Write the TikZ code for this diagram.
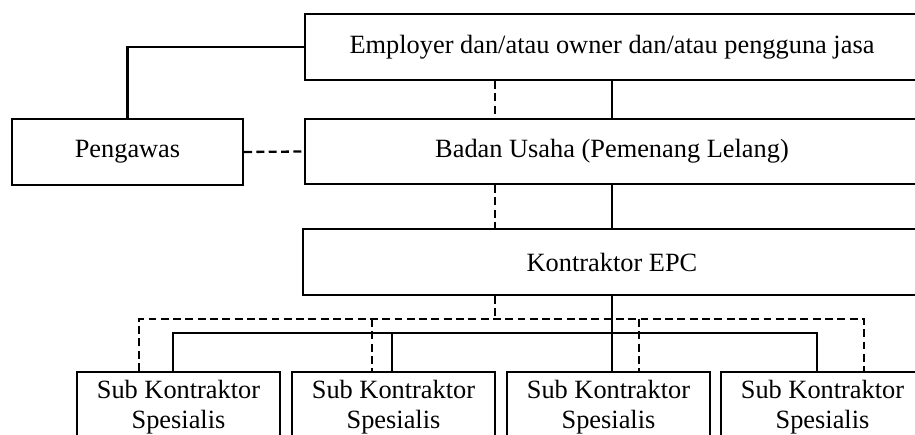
\documentclass[tikz,border=0pt]{standalone}
\usepackage{fontspec}
\setmainfont{Liberation Serif}
\tikzset{
  blok/.style={draw,line width=1.3pt,inner sep=2pt,align=center,font=\fontsize{15}{17}\selectfont},
  garis/.style={line width=1.3pt},
  putus/.style={line width=1.3pt,dash pattern=on 4.5pt off 2.5pt}
}
\begin{document}
\begin{tikzpicture}
  \useasboundingbox (0,0) rectangle (18.3,-8.7);
  \clip (0,0) rectangle (18.3,-8.7);
  %atas
  \node[blok,minimum width=12.28cm,minimum height=1.32cm] (emp) at (12.24,-0.94) {Employer dan/atau owner dan/atau pengguna jasa};
  \node[blok,minimum width=12.28cm,minimum height=1.30cm] (bdn) at (12.24,-3.03) {Badan Usaha (Pemenang Lelang)};
  \node[blok,minimum width=4.62cm,minimum height=1.32cm] (pgw) at (2.55,-3.04) {Pengawas};
  \node[blok,minimum width=12.36cm,minimum height=1.32cm] (epc) at (12.24,-5.24) {Kontraktor EPC};
  %sub kontraktor
  \foreach \i/\x in {1/3.57,2/7.87,3/12.17,4/16.45}
    \node[blok,anchor=north,minimum width=4.06cm,minimum height=1.4cm] (sub\i) at (\x,-7.42) {Sub Kontraktor\\Spesialis};
  %garis
  \draw[garis] (emp.west) -| (pgw.north);
  \draw[putus] (pgw.east) -- (bdn.west);
  \draw[garis] (emp.south) -- (bdn.north);
  \draw[garis] (bdn.south) -- (epc.north);
  \draw[putus] (emp.south -| 9.9,0) -- (bdn.north -| 9.9,0);
  \draw[putus] (bdn.south -| 9.9,0) -- (epc.north -| 9.9,0);
  %B
  \coordinate (dbus) at (9.9,-6.38);
  \coordinate (sbus) at (12.24,-6.66);
  \draw[putus] (epc.south -| dbus) -- (dbus);
  \draw[putus] (sub1.north -| 2.78,0) |- (dbus) -- (dbus -| 17.28,0) -- (sub4.north -| 17.28,0);
  \draw[putus] (dbus -| 7.44,0) -- (sub2.north -| 7.44,0);
  \draw[putus] (dbus -| 12.78,0) -- (sub3.north -| 12.78,0);
  \draw[garis] (epc.south) -- (epc.south |- sub3.north);
  \draw[garis] (sub1.north -| 3.46,0) |- (sbus) -| (sub2.north -| 7.84,0);
  \draw[garis] (sbus) -| (sub4.north -| 16.34,0);
\end{tikzpicture}
\end{document}
